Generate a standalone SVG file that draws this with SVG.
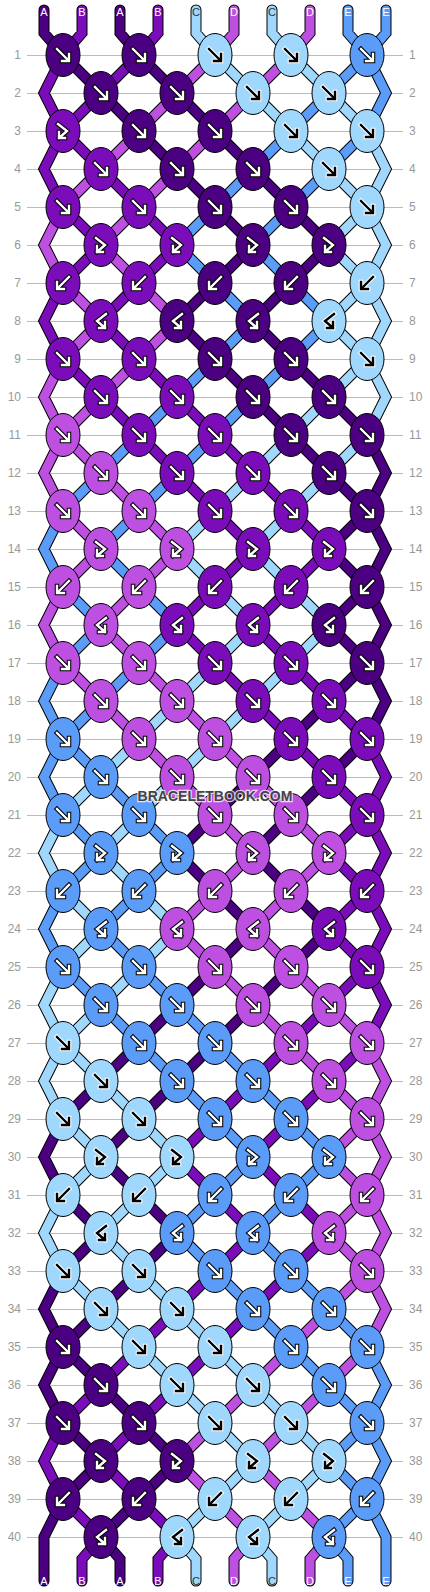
<svg xmlns="http://www.w3.org/2000/svg" xmlns:xlink="http://www.w3.org/1999/xlink" width="430" height="1592" viewBox="0 0 430 1592">
<style>
.A{fill:#4a0080;stroke:#000;color:#fff}
.B{fill:#7a0cb9;stroke:#000;color:#fff}
.C{fill:#a0d8fd;stroke:#fff;color:#000}
.D{fill:#bd4fe1;stroke:#000;color:#fff}
.E{fill:#5a9cf8;stroke:#000;color:#fff}
.ol{stroke:#000;stroke-width:11;fill:none;stroke-linejoin:miter;stroke-linecap:round}
.th{stroke-width:9;fill:none;stroke-linejoin:miter;stroke-linecap:round}
.grid{stroke:#bbbbbb;stroke-width:1;fill:none}
.num text{font-family:"Liberation Sans",Arial,sans-serif;font-size:12px;fill:#999}
.nl text{text-anchor:end}
.lab text{font-family:"Liberation Sans",Arial,sans-serif;font-size:11px;text-anchor:middle;fill:#fff}
.lab text.c{fill:#333}
.wm{font-family:"Liberation Sans",Arial,sans-serif;font-size:14px;font-weight:bold;text-anchor:middle;fill:#444;stroke:#fff;stroke-opacity:.75;stroke-width:2.5;paint-order:stroke}
</style>
<defs>
<path id="tA" d="M44 10V33L63 55M120 10V33L139 55M63 55l38 38M139 55l38 38M101 93l38 38M177 93l38 38M139 131l38 38M215 131l38 38M177 169l38 38M253 169l38 38M215 207l38 38M291 207l38 38M253 245l-38 38M329 245l-38 38M215 283l-38 38M291 283l-38 38M177 321l38 38M253 321l38 38M215 359l38 38M291 359l38 38M253 397l38 38M329 397l38 38M291 435l38 38M329 473l38 38M367 511l-38 38M329 549l38 38M367 587l-38 38M329 625l38 38M367 663l-38 38M329 701l-38 38M291 739l-38 38M367 739l-38 38M253 777l-38 38M329 777l-38 38M215 815l-38 38M291 815l-38 38M177 853l38 38M253 853l38 38M215 891l38 38M291 891l38 38M253 929l-38 38M329 929l-38 38M215 967l-38 38M291 967l-38 38M177 1005l-38 38M253 1005l-38 38M139 1043l-38 38M215 1043l-38 38M101 1081l-38 38M177 1081l-38 38M139 1119l-38 38M101 1157l38 38M63 1195l38 38M139 1195l38 38M101 1233l-38 38M177 1233l-38 38M139 1271l-38 38M101 1309l-38 38M63 1347l38 38M101 1385l38 38M63 1423l38 38M139 1423l38 38M101 1461l-38 38M177 1461l-38 38M139 1499l-38 38M63 1119l-19 38 19 38M63 1271l-19 38 19 38M63 1347l-19 38 19 38M63 1499L44 1537V1581M367 435l19 38-19 38M367 511l19 38-19 38M367 587l19 38-19 38M367 663l19 38-19 38M101 1537l19 22V1581"/>
<path id="tB" d="M82 10V33L63 55M158 10V33L139 55M139 55l-38 38M101 93l-38 38M63 131l38 38M101 169l38 38M63 207l38 38M139 207l38 38M101 245l-38 38M177 245l-38 38M139 283l-38 38M101 321l38 38M63 359l38 38M139 359l38 38M101 397l38 38M177 397l38 38M139 435l38 38M215 435l38 38M177 473l38 38M253 473l38 38M215 511l38 38M291 511l38 38M253 549l-38 38M329 549l-38 38M215 587l-38 38M291 587l-38 38M177 625l38 38M253 625l38 38M215 663l38 38M291 663l38 38M253 701l38 38M329 701l38 38M291 739l38 38M329 777l38 38M367 815l-38 38M329 853l38 38M367 891l-38 38M329 929l38 38M367 967l-38 38M329 1005l-38 38M291 1043l-38 38M367 1043l-38 38M253 1081l-38 38M329 1081l-38 38M215 1119l-38 38M291 1119l-38 38M177 1157l38 38M253 1157l38 38M215 1195l38 38M291 1195l38 38M253 1233l-38 38M329 1233l-38 38M215 1271l-38 38M291 1271l-38 38M177 1309l-38 38M253 1309l-38 38M139 1347l-38 38M215 1347l-38 38M101 1385l-38 38M177 1385l-38 38M139 1423l-38 38M101 1461l38 38M63 1499l38 38M139 1499l38 38M63 55l-19 38 19 38M63 131l-19 38 19 38M63 283l-19 38 19 38M63 1423l-19 38 19 38M367 739l19 38-19 38M367 815l19 38-19 38M367 891l19 38-19 38M367 967l19 38-19 38M101 1537l-19 22V1581M177 1537l-19 22V1581"/>
<path id="tC" d="M196 10V33L215 55M272 10V33L291 55M215 55l38 38M291 55l38 38M253 93l38 38M329 93l38 38M291 131l38 38M329 169l38 38M367 207l-38 38M329 245l38 38M367 283l-38 38M329 321l38 38M367 359l-38 38M329 397l-38 38M291 435l-38 38M367 435l-38 38M253 473l-38 38M329 473l-38 38M215 511l-38 38M291 511l-38 38M177 549l38 38M253 549l38 38M215 587l38 38M291 587l38 38M253 625l-38 38M329 625l-38 38M215 663l-38 38M291 663l-38 38M177 701l-38 38M253 701l-38 38M139 739l-38 38M215 739l-38 38M101 777l-38 38M177 777l-38 38M139 815l-38 38M101 853l38 38M63 891l38 38M139 891l38 38M101 929l-38 38M177 929l-38 38M139 967l-38 38M101 1005l-38 38M63 1043l38 38M101 1081l38 38M63 1119l38 38M139 1119l38 38M101 1157l-38 38M177 1157l-38 38M139 1195l-38 38M101 1233l38 38M63 1271l38 38M139 1271l38 38M101 1309l38 38M177 1309l38 38M139 1347l38 38M215 1347l38 38M177 1385l38 38M253 1385l38 38M215 1423l38 38M291 1423l38 38M253 1461l-38 38M329 1461l-38 38M215 1499l-38 38M291 1499l-38 38M63 815l-19 38 19 38M63 967l-19 38 19 38M63 1043l-19 38 19 38M63 1195l-19 38 19 38M367 131l19 38-19 38M367 207l19 38-19 38M367 283l19 38-19 38M367 359l19 38-19 38M177 1537l19 22V1581M253 1537l19 22V1581"/>
<path id="tD" d="M234 10V33L215 55M310 10V33L291 55M215 55l-38 38M291 55l-38 38M177 93l-38 38M253 93l-38 38M139 131l-38 38M215 131l-38 38M101 169l-38 38M177 169l-38 38M139 207l-38 38M101 245l38 38M63 283l38 38M139 283l38 38M101 321l-38 38M177 321l-38 38M139 359l-38 38M101 397l-38 38M63 435l38 38M101 473l38 38M63 511l38 38M139 511l38 38M101 549l-38 38M177 549l-38 38M139 587l-38 38M101 625l38 38M63 663l38 38M139 663l38 38M101 701l38 38M177 701l38 38M139 739l38 38M215 739l38 38M177 777l38 38M253 777l38 38M215 815l38 38M291 815l38 38M253 853l-38 38M329 853l-38 38M215 891l-38 38M291 891l-38 38M177 929l38 38M253 929l38 38M215 967l38 38M291 967l38 38M253 1005l38 38M329 1005l38 38M291 1043l38 38M329 1081l38 38M367 1119l-38 38M329 1157l38 38M367 1195l-38 38M329 1233l38 38M367 1271l-38 38M329 1309l-38 38M291 1347l-38 38M367 1347l-38 38M253 1385l-38 38M329 1385l-38 38M215 1423l-38 38M291 1423l-38 38M177 1461l38 38M253 1461l38 38M215 1499l38 38M291 1499l38 38M63 207l-19 38 19 38M63 359l-19 38 19 38M63 435l-19 38 19 38M63 587l-19 38 19 38M367 1043l19 38-19 38M367 1119l19 38-19 38M367 1195l19 38-19 38M367 1271l19 38-19 38M253 1537l-19 22V1581M329 1537l-19 22V1581"/>
<path id="tE" d="M348 10V33L367 55M386 10V33L367 55M367 55l-38 38M329 93l-38 38M291 131l-38 38M367 131l-38 38M253 169l-38 38M329 169l-38 38M215 207l-38 38M291 207l-38 38M177 245l38 38M253 245l38 38M215 283l38 38M291 283l38 38M253 321l-38 38M329 321l-38 38M215 359l-38 38M291 359l-38 38M177 397l-38 38M253 397l-38 38M139 435l-38 38M215 435l-38 38M101 473l-38 38M177 473l-38 38M139 511l-38 38M101 549l38 38M63 587l38 38M139 587l38 38M101 625l-38 38M177 625l-38 38M139 663l-38 38M101 701l-38 38M63 739l38 38M101 777l38 38M63 815l38 38M139 815l38 38M101 853l-38 38M177 853l-38 38M139 891l-38 38M101 929l38 38M63 967l38 38M139 967l38 38M101 1005l38 38M177 1005l38 38M139 1043l38 38M215 1043l38 38M177 1081l38 38M253 1081l38 38M215 1119l38 38M291 1119l38 38M253 1157l-38 38M329 1157l-38 38M215 1195l-38 38M291 1195l-38 38M177 1233l38 38M253 1233l38 38M215 1271l38 38M291 1271l38 38M253 1309l38 38M329 1309l38 38M291 1347l38 38M329 1385l38 38M367 1423l-38 38M329 1461l38 38M367 1499l-38 38M63 511l-19 38 19 38M63 663l-19 38 19 38M63 739l-19 38 19 38M63 891l-19 38 19 38M367 55l19 38-19 38M367 1347l19 38-19 38M367 1423l19 38-19 38M367 1499L386 1537V1581M329 1537l19 22V1581"/>
<g id="F"><ellipse rx="17" ry="21.5" stroke="#000" stroke-width="1"/><path d="M-6-6L5 5M6-1V6H-1" fill="none" stroke-width="4.5" stroke-linecap="square"/><path d="M-6-6L5 5M6-1V6H-1" fill="none" stroke="currentColor" stroke-width="2.4" stroke-linecap="square"/></g>
<g id="B"><ellipse rx="17" ry="21.5" stroke="#000" stroke-width="1"/><path d="M6-6L-5 5M-6-1V6H1" fill="none" stroke-width="4.5" stroke-linecap="square"/><path d="M6-6L-5 5M-6-1V6H1" fill="none" stroke="currentColor" stroke-width="2.4" stroke-linecap="square"/></g>
<g id="FB"><ellipse rx="17" ry="21.5" stroke="#000" stroke-width="1"/><path d="M-5-7L4 0L-4 7M-4 1V7H2" fill="none" stroke-width="4.5" stroke-linecap="square"/><path d="M-5-7L4 0L-4 7M-4 1V7H2" fill="none" stroke="currentColor" stroke-width="2.4" stroke-linecap="square"/></g>
<g id="BF"><ellipse rx="17" ry="21.5" stroke="#000" stroke-width="1"/><path d="M5-7L-4 0L4 7M4 1V7H-2" fill="none" stroke-width="4.5" stroke-linecap="square"/><path d="M5-7L-4 0L4 7M4 1V7H-2" fill="none" stroke="currentColor" stroke-width="2.4" stroke-linecap="square"/></g>
</defs>
<rect width="430" height="1592" fill="#fff"/>
<path class="grid" d="M27 55.5H403M27 93.5H403M27 131.5H403M27 169.5H403M27 207.5H403M27 245.5H403M27 283.5H403M27 321.5H403M27 359.5H403M27 397.5H403M27 435.5H403M27 473.5H403M27 511.5H403M27 549.5H403M27 587.5H403M27 625.5H403M27 663.5H403M27 701.5H403M27 739.5H403M27 777.5H403M27 815.5H403M27 853.5H403M27 891.5H403M27 929.5H403M27 967.5H403M27 1005.5H403M27 1043.5H403M27 1081.5H403M27 1119.5H403M27 1157.5H403M27 1195.5H403M27 1233.5H403M27 1271.5H403M27 1309.5H403M27 1347.5H403M27 1385.5H403M27 1423.5H403M27 1461.5H403M27 1499.5H403M27 1537.5H403"/>
<g class="num nl">
<text x="21" y="59">1</text><text x="21" y="97">2</text><text x="21" y="135">3</text><text x="21" y="173">4</text><text x="21" y="211">5</text><text x="21" y="249">6</text><text x="21" y="287">7</text><text x="21" y="325">8</text><text x="21" y="363">9</text><text x="21" y="401">10</text><text x="21" y="439">11</text><text x="21" y="477">12</text><text x="21" y="515">13</text><text x="21" y="553">14</text><text x="21" y="591">15</text><text x="21" y="629">16</text><text x="21" y="667">17</text><text x="21" y="705">18</text><text x="21" y="743">19</text><text x="21" y="781">20</text><text x="21" y="819">21</text><text x="21" y="857">22</text><text x="21" y="895">23</text><text x="21" y="933">24</text><text x="21" y="971">25</text><text x="21" y="1009">26</text><text x="21" y="1047">27</text><text x="21" y="1085">28</text><text x="21" y="1123">29</text><text x="21" y="1161">30</text><text x="21" y="1199">31</text><text x="21" y="1237">32</text><text x="21" y="1275">33</text><text x="21" y="1313">34</text><text x="21" y="1351">35</text><text x="21" y="1389">36</text><text x="21" y="1427">37</text><text x="21" y="1465">38</text><text x="21" y="1503">39</text><text x="21" y="1541">40</text>
</g>
<g class="num">
<text x="409" y="59">1</text><text x="409" y="97">2</text><text x="409" y="135">3</text><text x="409" y="173">4</text><text x="409" y="211">5</text><text x="409" y="249">6</text><text x="409" y="287">7</text><text x="409" y="325">8</text><text x="409" y="363">9</text><text x="409" y="401">10</text><text x="409" y="439">11</text><text x="409" y="477">12</text><text x="409" y="515">13</text><text x="409" y="553">14</text><text x="409" y="591">15</text><text x="409" y="629">16</text><text x="409" y="667">17</text><text x="409" y="705">18</text><text x="409" y="743">19</text><text x="409" y="781">20</text><text x="409" y="819">21</text><text x="409" y="857">22</text><text x="409" y="895">23</text><text x="409" y="933">24</text><text x="409" y="971">25</text><text x="409" y="1009">26</text><text x="409" y="1047">27</text><text x="409" y="1085">28</text><text x="409" y="1123">29</text><text x="409" y="1161">30</text><text x="409" y="1199">31</text><text x="409" y="1237">32</text><text x="409" y="1275">33</text><text x="409" y="1313">34</text><text x="409" y="1351">35</text><text x="409" y="1389">36</text><text x="409" y="1427">37</text><text x="409" y="1465">38</text><text x="409" y="1503">39</text><text x="409" y="1541">40</text>
</g>
<g id="threads">
<use href="#tA" class="ol"/><use href="#tB" class="ol"/><use href="#tC" class="ol"/><use href="#tD" class="ol"/><use href="#tE" class="ol"/>
<use href="#tA" class="th" stroke="#4a0080"/><use href="#tB" class="th" stroke="#7a0cb9"/><use href="#tC" class="th" stroke="#a0d8fd"/><use href="#tD" class="th" stroke="#bd4fe1"/><use href="#tE" class="th" stroke="#5a9cf8"/>
</g>
<g id="knots">
<g id="k1-1" class="A"><use href="#F" x="63" y="55"/></g><g id="k1-2" class="A"><use href="#F" x="139" y="55"/></g><g id="k1-3" class="C"><use href="#F" x="215" y="55"/></g><g id="k1-4" class="C"><use href="#F" x="291" y="55"/></g><g id="k1-5" class="E"><use href="#F" x="367" y="55"/></g>
<g id="k2-1" class="A"><use href="#F" x="101" y="93"/></g><g id="k2-2" class="A"><use href="#F" x="177" y="93"/></g><g id="k2-3" class="C"><use href="#F" x="253" y="93"/></g><g id="k2-4" class="C"><use href="#F" x="329" y="93"/></g>
<g id="k3-1" class="B"><use href="#FB" x="63" y="131"/></g><g id="k3-2" class="A"><use href="#F" x="139" y="131"/></g><g id="k3-3" class="A"><use href="#F" x="215" y="131"/></g><g id="k3-4" class="C"><use href="#F" x="291" y="131"/></g><g id="k3-5" class="C"><use href="#F" x="367" y="131"/></g>
<g id="k4-1" class="B"><use href="#F" x="101" y="169"/></g><g id="k4-2" class="A"><use href="#F" x="177" y="169"/></g><g id="k4-3" class="A"><use href="#F" x="253" y="169"/></g><g id="k4-4" class="C"><use href="#F" x="329" y="169"/></g>
<g id="k5-1" class="B"><use href="#F" x="63" y="207"/></g><g id="k5-2" class="B"><use href="#F" x="139" y="207"/></g><g id="k5-3" class="A"><use href="#F" x="215" y="207"/></g><g id="k5-4" class="A"><use href="#F" x="291" y="207"/></g><g id="k5-5" class="C"><use href="#F" x="367" y="207"/></g>
<g id="k6-1" class="B"><use href="#FB" x="101" y="245"/></g><g id="k6-2" class="B"><use href="#FB" x="177" y="245"/></g><g id="k6-3" class="A"><use href="#FB" x="253" y="245"/></g><g id="k6-4" class="A"><use href="#FB" x="329" y="245"/></g>
<g id="k7-1" class="B"><use href="#B" x="63" y="283"/></g><g id="k7-2" class="B"><use href="#B" x="139" y="283"/></g><g id="k7-3" class="A"><use href="#B" x="215" y="283"/></g><g id="k7-4" class="A"><use href="#B" x="291" y="283"/></g><g id="k7-5" class="C"><use href="#B" x="367" y="283"/></g>
<g id="k8-1" class="B"><use href="#BF" x="101" y="321"/></g><g id="k8-2" class="A"><use href="#BF" x="177" y="321"/></g><g id="k8-3" class="A"><use href="#BF" x="253" y="321"/></g><g id="k8-4" class="C"><use href="#BF" x="329" y="321"/></g>
<g id="k9-1" class="B"><use href="#F" x="63" y="359"/></g><g id="k9-2" class="B"><use href="#F" x="139" y="359"/></g><g id="k9-3" class="A"><use href="#F" x="215" y="359"/></g><g id="k9-4" class="A"><use href="#F" x="291" y="359"/></g><g id="k9-5" class="C"><use href="#F" x="367" y="359"/></g>
<g id="k10-1" class="B"><use href="#F" x="101" y="397"/></g><g id="k10-2" class="B"><use href="#F" x="177" y="397"/></g><g id="k10-3" class="A"><use href="#F" x="253" y="397"/></g><g id="k10-4" class="A"><use href="#F" x="329" y="397"/></g>
<g id="k11-1" class="D"><use href="#F" x="63" y="435"/></g><g id="k11-2" class="B"><use href="#F" x="139" y="435"/></g><g id="k11-3" class="B"><use href="#F" x="215" y="435"/></g><g id="k11-4" class="A"><use href="#F" x="291" y="435"/></g><g id="k11-5" class="A"><use href="#F" x="367" y="435"/></g>
<g id="k12-1" class="D"><use href="#F" x="101" y="473"/></g><g id="k12-2" class="B"><use href="#F" x="177" y="473"/></g><g id="k12-3" class="B"><use href="#F" x="253" y="473"/></g><g id="k12-4" class="A"><use href="#F" x="329" y="473"/></g>
<g id="k13-1" class="D"><use href="#F" x="63" y="511"/></g><g id="k13-2" class="D"><use href="#F" x="139" y="511"/></g><g id="k13-3" class="B"><use href="#F" x="215" y="511"/></g><g id="k13-4" class="B"><use href="#F" x="291" y="511"/></g><g id="k13-5" class="A"><use href="#F" x="367" y="511"/></g>
<g id="k14-1" class="D"><use href="#FB" x="101" y="549"/></g><g id="k14-2" class="D"><use href="#FB" x="177" y="549"/></g><g id="k14-3" class="B"><use href="#FB" x="253" y="549"/></g><g id="k14-4" class="B"><use href="#FB" x="329" y="549"/></g>
<g id="k15-1" class="D"><use href="#B" x="63" y="587"/></g><g id="k15-2" class="D"><use href="#B" x="139" y="587"/></g><g id="k15-3" class="B"><use href="#B" x="215" y="587"/></g><g id="k15-4" class="B"><use href="#B" x="291" y="587"/></g><g id="k15-5" class="A"><use href="#B" x="367" y="587"/></g>
<g id="k16-1" class="D"><use href="#BF" x="101" y="625"/></g><g id="k16-2" class="B"><use href="#BF" x="177" y="625"/></g><g id="k16-3" class="B"><use href="#BF" x="253" y="625"/></g><g id="k16-4" class="A"><use href="#BF" x="329" y="625"/></g>
<g id="k17-1" class="D"><use href="#F" x="63" y="663"/></g><g id="k17-2" class="D"><use href="#F" x="139" y="663"/></g><g id="k17-3" class="B"><use href="#F" x="215" y="663"/></g><g id="k17-4" class="B"><use href="#F" x="291" y="663"/></g><g id="k17-5" class="A"><use href="#F" x="367" y="663"/></g>
<g id="k18-1" class="D"><use href="#F" x="101" y="701"/></g><g id="k18-2" class="D"><use href="#F" x="177" y="701"/></g><g id="k18-3" class="B"><use href="#F" x="253" y="701"/></g><g id="k18-4" class="B"><use href="#F" x="329" y="701"/></g>
<g id="k19-1" class="E"><use href="#F" x="63" y="739"/></g><g id="k19-2" class="D"><use href="#F" x="139" y="739"/></g><g id="k19-3" class="D"><use href="#F" x="215" y="739"/></g><g id="k19-4" class="B"><use href="#F" x="291" y="739"/></g><g id="k19-5" class="B"><use href="#F" x="367" y="739"/></g>
<g id="k20-1" class="E"><use href="#F" x="101" y="777"/></g><g id="k20-2" class="D"><use href="#F" x="177" y="777"/></g><g id="k20-3" class="D"><use href="#F" x="253" y="777"/></g><g id="k20-4" class="B"><use href="#F" x="329" y="777"/></g>
<g id="k21-1" class="E"><use href="#F" x="63" y="815"/></g><g id="k21-2" class="E"><use href="#F" x="139" y="815"/></g><g id="k21-3" class="D"><use href="#F" x="215" y="815"/></g><g id="k21-4" class="D"><use href="#F" x="291" y="815"/></g><g id="k21-5" class="B"><use href="#F" x="367" y="815"/></g>
<g id="k22-1" class="E"><use href="#FB" x="101" y="853"/></g><g id="k22-2" class="E"><use href="#FB" x="177" y="853"/></g><g id="k22-3" class="D"><use href="#FB" x="253" y="853"/></g><g id="k22-4" class="D"><use href="#FB" x="329" y="853"/></g>
<g id="k23-1" class="E"><use href="#B" x="63" y="891"/></g><g id="k23-2" class="E"><use href="#B" x="139" y="891"/></g><g id="k23-3" class="D"><use href="#B" x="215" y="891"/></g><g id="k23-4" class="D"><use href="#B" x="291" y="891"/></g><g id="k23-5" class="B"><use href="#B" x="367" y="891"/></g>
<g id="k24-1" class="E"><use href="#BF" x="101" y="929"/></g><g id="k24-2" class="D"><use href="#BF" x="177" y="929"/></g><g id="k24-3" class="D"><use href="#BF" x="253" y="929"/></g><g id="k24-4" class="B"><use href="#BF" x="329" y="929"/></g>
<g id="k25-1" class="E"><use href="#F" x="63" y="967"/></g><g id="k25-2" class="E"><use href="#F" x="139" y="967"/></g><g id="k25-3" class="D"><use href="#F" x="215" y="967"/></g><g id="k25-4" class="D"><use href="#F" x="291" y="967"/></g><g id="k25-5" class="B"><use href="#F" x="367" y="967"/></g>
<g id="k26-1" class="E"><use href="#F" x="101" y="1005"/></g><g id="k26-2" class="E"><use href="#F" x="177" y="1005"/></g><g id="k26-3" class="D"><use href="#F" x="253" y="1005"/></g><g id="k26-4" class="D"><use href="#F" x="329" y="1005"/></g>
<g id="k27-1" class="C"><use href="#F" x="63" y="1043"/></g><g id="k27-2" class="E"><use href="#F" x="139" y="1043"/></g><g id="k27-3" class="E"><use href="#F" x="215" y="1043"/></g><g id="k27-4" class="D"><use href="#F" x="291" y="1043"/></g><g id="k27-5" class="D"><use href="#F" x="367" y="1043"/></g>
<g id="k28-1" class="C"><use href="#F" x="101" y="1081"/></g><g id="k28-2" class="E"><use href="#F" x="177" y="1081"/></g><g id="k28-3" class="E"><use href="#F" x="253" y="1081"/></g><g id="k28-4" class="D"><use href="#F" x="329" y="1081"/></g>
<g id="k29-1" class="C"><use href="#F" x="63" y="1119"/></g><g id="k29-2" class="C"><use href="#F" x="139" y="1119"/></g><g id="k29-3" class="E"><use href="#F" x="215" y="1119"/></g><g id="k29-4" class="E"><use href="#F" x="291" y="1119"/></g><g id="k29-5" class="D"><use href="#F" x="367" y="1119"/></g>
<g id="k30-1" class="C"><use href="#FB" x="101" y="1157"/></g><g id="k30-2" class="C"><use href="#FB" x="177" y="1157"/></g><g id="k30-3" class="E"><use href="#FB" x="253" y="1157"/></g><g id="k30-4" class="E"><use href="#FB" x="329" y="1157"/></g>
<g id="k31-1" class="C"><use href="#B" x="63" y="1195"/></g><g id="k31-2" class="C"><use href="#B" x="139" y="1195"/></g><g id="k31-3" class="E"><use href="#B" x="215" y="1195"/></g><g id="k31-4" class="E"><use href="#B" x="291" y="1195"/></g><g id="k31-5" class="D"><use href="#B" x="367" y="1195"/></g>
<g id="k32-1" class="C"><use href="#BF" x="101" y="1233"/></g><g id="k32-2" class="E"><use href="#BF" x="177" y="1233"/></g><g id="k32-3" class="E"><use href="#BF" x="253" y="1233"/></g><g id="k32-4" class="D"><use href="#BF" x="329" y="1233"/></g>
<g id="k33-1" class="C"><use href="#F" x="63" y="1271"/></g><g id="k33-2" class="C"><use href="#F" x="139" y="1271"/></g><g id="k33-3" class="E"><use href="#F" x="215" y="1271"/></g><g id="k33-4" class="E"><use href="#F" x="291" y="1271"/></g><g id="k33-5" class="D"><use href="#F" x="367" y="1271"/></g>
<g id="k34-1" class="C"><use href="#F" x="101" y="1309"/></g><g id="k34-2" class="C"><use href="#F" x="177" y="1309"/></g><g id="k34-3" class="E"><use href="#F" x="253" y="1309"/></g><g id="k34-4" class="E"><use href="#F" x="329" y="1309"/></g>
<g id="k35-1" class="A"><use href="#F" x="63" y="1347"/></g><g id="k35-2" class="C"><use href="#F" x="139" y="1347"/></g><g id="k35-3" class="C"><use href="#F" x="215" y="1347"/></g><g id="k35-4" class="E"><use href="#F" x="291" y="1347"/></g><g id="k35-5" class="E"><use href="#F" x="367" y="1347"/></g>
<g id="k36-1" class="A"><use href="#F" x="101" y="1385"/></g><g id="k36-2" class="C"><use href="#F" x="177" y="1385"/></g><g id="k36-3" class="C"><use href="#F" x="253" y="1385"/></g><g id="k36-4" class="E"><use href="#F" x="329" y="1385"/></g>
<g id="k37-1" class="A"><use href="#F" x="63" y="1423"/></g><g id="k37-2" class="A"><use href="#F" x="139" y="1423"/></g><g id="k37-3" class="C"><use href="#F" x="215" y="1423"/></g><g id="k37-4" class="C"><use href="#F" x="291" y="1423"/></g><g id="k37-5" class="E"><use href="#F" x="367" y="1423"/></g>
<g id="k38-1" class="A"><use href="#FB" x="101" y="1461"/></g><g id="k38-2" class="A"><use href="#FB" x="177" y="1461"/></g><g id="k38-3" class="C"><use href="#FB" x="253" y="1461"/></g><g id="k38-4" class="C"><use href="#FB" x="329" y="1461"/></g>
<g id="k39-1" class="A"><use href="#B" x="63" y="1499"/></g><g id="k39-2" class="A"><use href="#B" x="139" y="1499"/></g><g id="k39-3" class="C"><use href="#B" x="215" y="1499"/></g><g id="k39-4" class="C"><use href="#B" x="291" y="1499"/></g><g id="k39-5" class="E"><use href="#B" x="367" y="1499"/></g>
<g id="k40-1" class="A"><use href="#BF" x="101" y="1537"/></g><g id="k40-2" class="C"><use href="#BF" x="177" y="1537"/></g><g id="k40-3" class="C"><use href="#BF" x="253" y="1537"/></g><g id="k40-4" class="E"><use href="#BF" x="329" y="1537"/></g>
</g>
<g class="lab" id="labels-top">
<text x="44" y="16">A</text><text x="82" y="16">B</text><text x="120" y="16">A</text><text x="158" y="16">B</text><text x="196" y="16" class="c">C</text><text x="234" y="16">D</text><text x="272" y="16" class="c">C</text><text x="310" y="16">D</text><text x="348" y="16">E</text><text x="386" y="16">E</text>
</g>
<g class="lab" id="labels-bottom">
<text x="44" y="1585">A</text><text x="82" y="1585">B</text><text x="120" y="1585">A</text><text x="158" y="1585">B</text><text x="196" y="1585" class="c">C</text><text x="234" y="1585">D</text><text x="272" y="1585" class="c">C</text><text x="310" y="1585">D</text><text x="348" y="1585">E</text><text x="386" y="1585">E</text>
</g>
<text class="wm" x="215" y="801">BRACELETBOOK.COM</text>
</svg>
